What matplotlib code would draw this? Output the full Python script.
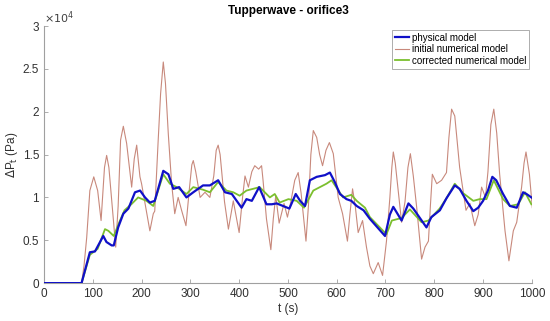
import numpy as np
import matplotlib.pyplot as plt
from matplotlib.ticker import FuncFormatter

plt.rcParams['font.family'] = ['Liberation Sans', 'DejaVu Sans']

# values, pressure in units of 1e4 Pa
t_init = [0, 77, 82, 87.5, 94, 102, 110, 117, 124, 128.4, 133, 147, 152, 157, 162.6, 169.4, 179.7, 185,
          190, 196.7, 200, 217, 224, 227, 234, 239, 244.5, 249, 254.8, 261.6, 268, 275, 282, 291, 298,
          303, 306, 311, 320, 330, 340, 348, 353, 357, 361, 370, 378, 388, 400, 407, 412, 419, 426,
          432, 440, 446, 449, 456, 465, 470, 475, 482, 492, 499, 506, 514, 521, 527, 537, 542, 547,
          552, 559, 565, 571, 578, 585, 593, 603, 612, 622, 627, 632.5, 638, 644, 653, 661, 668,
          675, 685, 694, 702, 709, 713, 716, 720, 733, 740, 746, 751, 757, 764, 774, 781, 788, 792,
          796, 805, 815, 825, 830, 835.5, 842, 847, 852, 865, 873, 883, 890, 897, 905, 910, 916,
          922, 928, 934, 945, 953, 962, 969, 979, 984, 988, 995, 1001]
p_init = [0, 0, 0.2, 0.53, 1.08, 1.24, 1.08, 0.73, 1.35, 1.49, 1.35, 0.42, 0.9, 1.67, 1.83, 1.63, 1.12, 1.45,
          1.61, 1.24, 1.16, 0.61, 0.81, 0.84, 1.66, 2.21, 2.58, 2.33, 1.74, 1.16, 0.81, 1.0, 0.85, 0.67, 1.1,
          1.38, 1.43, 1.3, 1.0, 1.06, 1.0, 1.25, 1.55, 1.61, 1.5, 0.95, 0.63, 0.96, 0.59, 1.0, 1.25, 1.12, 1.3,
          1.37, 1.33, 1.37, 1.2, 0.75, 0.39, 0.75, 1.02, 0.70, 0.93, 0.77, 0.95, 1.2, 1.29, 1.05, 0.49, 0.9, 1.5,
          1.78, 1.70, 1.5, 1.37, 1.55, 1.64, 1.51, 1.0, 0.81, 0.49, 0.8, 1.10, 0.9, 0.59, 0.73, 0.42, 0.2,
          0.11, 0.24, 0.09, 0.49, 1.0, 1.35, 1.53, 1.4, 0.71, 0.95, 1.35, 1.51, 1.25, 0.88, 0.28, 0.42, 0.49, 0.9,
          1.27, 1.16, 1.2, 1.29, 1.7, 2.03, 1.95, 1.65, 1.35, 0.85, 0.93, 0.67, 0.8, 1.12, 1.0, 1.3, 1.85,
          2.03, 1.75, 1.27, 0.61, 0.26, 0.61, 0.71, 1.12, 1.4, 1.53, 1.27, 0.88]

t_phys = [0, 77, 94, 104.5, 121.5, 128, 138.7, 143, 152, 162.6, 173, 186.5, 197, 207, 217, 227, 244.5,
          255, 265, 277, 292, 306, 326, 340, 357, 371, 385, 395, 405, 415, 426, 441, 456, 467, 477,
          490, 503, 516, 525, 535, 545, 559, 576, 586, 596, 606.6, 620, 630, 641, 655, 668, 699,
          709, 716, 733, 747, 757, 784, 794, 811.5, 825, 842, 852, 866, 880, 890, 900, 910, 919,
          927, 941, 955, 969, 982, 989, 999]
p_phys = [0, 0, 0.36, 0.37, 0.55, 0.48, 0.44, 0.44, 0.65, 0.81, 0.87, 1.06, 1.08, 1.0, 0.94, 0.96, 1.31,
          1.27, 1.10, 1.12, 1.0, 1.06, 1.14, 1.14, 1.20, 1.06, 1.04, 0.96, 0.88, 0.98, 0.96, 1.12, 0.92, 0.92, 0.93,
          0.9, 0.87, 1.04, 0.96, 0.90, 1.20, 1.24, 1.26, 1.29, 1.18, 1.04, 0.98, 0.96, 0.90, 0.85, 0.75, 0.55,
          0.80, 0.89, 0.73, 0.93, 0.87, 0.65, 0.77, 0.85, 0.99, 1.14, 1.10, 0.96, 0.84, 0.88, 0.96, 1.08, 1.24,
          1.2, 1.04, 0.90, 0.88, 1.06, 1.04, 1.0]

t_corr = [0, 77, 94, 110, 125, 132, 143, 155, 165, 179, 193, 210, 224, 234, 244.5, 258, 272, 292, 306,
          326, 340, 357, 374, 388, 401, 415, 442, 463, 473, 483, 501, 518, 533, 552, 579, 589.5, 613,
          630, 641, 658, 668, 702, 713, 733, 750, 774, 788, 811, 825, 842, 859, 880, 893, 907, 922,
          941, 955, 972, 986, 999]
p_corr = [0, 0, 0.33, 0.4, 0.63, 0.61, 0.55, 0.72, 0.85, 0.92, 1.0, 0.96, 0.90, 1.08, 1.27, 1.16, 1.12, 1.04, 1.12,
          1.09, 1.06, 1.18, 1.08, 1.06, 1.02, 1.08, 1.12, 1.0, 1.04, 0.94, 0.98, 0.96, 0.88, 1.08, 1.16, 1.20, 1.0,
          1.03, 0.96, 0.88, 0.77, 0.57, 0.73, 0.76, 0.86, 0.71, 0.73, 0.87, 0.99, 1.16, 1.05, 0.96, 0.98, 0.98, 1.20,
          0.98, 0.90, 0.92, 1.06, 0.92]

fig = plt.figure(figsize=(5.5, 3.21), dpi=100)
ax = fig.add_axes([0.08, 0.118, 0.887, 0.801])

ax.plot(t_init, np.array(p_init) * 1e4, color='#c8897c', lw=0.8, label='initial numerical model', zorder=2)
ax.plot(t_corr, np.array(p_corr) * 1e4, color='#7bbf2e', lw=1.3, label='corrected numerical model', zorder=3)
ax.plot(t_phys, np.array(p_phys) * 1e4, color='#1010c8', lw=1.6, label='physical model', zorder=4)

ax.set_xlim(0, 1000)
ax.set_ylim(0, 3e4)
ax.set_xticks(np.arange(0, 1001, 100))
ax.set_yticks(np.arange(0, 3.01e4, 0.5e4))
ax.yaxis.set_major_formatter(FuncFormatter(lambda v, pos: '%g' % (v / 1e4)))
ax.text(0, 1.0, r'$\times10^4$', transform=ax.transAxes, fontsize=8, color='#404040',
        ha='left', va='bottom')

for s in ['top', 'right']:
    ax.spines[s].set_visible(False)
for s in ['left', 'bottom']:
    ax.spines[s].set_color('#a0a0a0')
    ax.spines[s].set_linewidth(0.8)
ax.tick_params(direction='in', length=3, width=0.6, color='#a0a0a0', labelcolor='#303030', labelsize=8.5)

ax.set_title('Tupperwave - orifice3', fontsize=8.5, fontweight='bold', pad=9)
ax.set_xlabel('t (s)', fontsize=8.5, color='#303030', labelpad=2)
ax.set_ylabel(r'$\Delta$P$_{\rm t}$ (Pa)', fontsize=8.5, color='#303030', labelpad=2)

h, l = ax.get_legend_handles_labels()
order = [2, 0, 1]
leg = ax.legend([h[i] for i in order], [l[i] for i in order], loc='upper right',
                bbox_to_anchor=(0.995, 0.985), fontsize=7, fancybox=False, framealpha=1,
                handlelength=1.5, handletextpad=0.3, borderpad=0.3, labelspacing=0.15,
                borderaxespad=0)
leg.get_frame().set_edgecolor('#a0a0a0')
leg.get_frame().set_linewidth(0.6)

fig.savefig('out.png', dpi=100)
